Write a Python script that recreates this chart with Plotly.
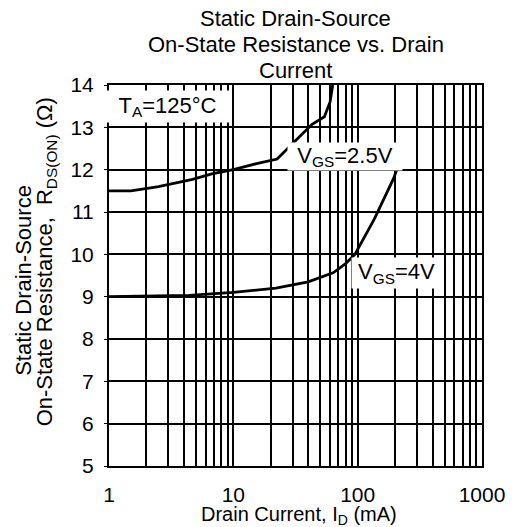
import plotly.graph_objects as go

# Data
id_25 = [1, 1.5, 2.5, 4.7, 6.7, 10, 15.7, 22.5, 32, 43, 54, 60, 63]
r_25 = [11.5, 11.5, 11.6, 11.77, 11.9, 12.0, 12.15, 12.25, 12.7, 13.07, 13.25, 13.6, 14.0]

id_4 = [1, 4.4, 10, 22, 40, 64, 80, 95, 136, 195, 215]
r_4 = [9.0, 9.03, 9.1, 9.2, 9.35, 9.57, 9.78, 10.0, 10.83, 11.8, 12.15]

x_ticks = [1, 10, 100, 1000]
x_tick_text = ["1", "10", "100", "1000"]
x_minor = [m * d for d in (1, 10, 100) for m in range(2, 10)]
y_ticks = list(range(5, 15))

title_lines = ["Static Drain-Source", "On-State Resistance vs. Drain", "Current"]
ytitle_lines = ["Static Drain-Source", "On-State Resistance,  R<sub>DS(ON)</sub> (Ω)"]
xtitle = "Drain Current, I<sub>D</sub> (mA)"

FONT = "Liberation Sans, Arial, Helvetica, sans-serif"

fig = go.Figure()
fig.add_trace(go.Scatter(x=id_25, y=r_25, mode="lines",
                         line=dict(color="black", width=2.8), showlegend=False))
fig.add_trace(go.Scatter(x=id_4, y=r_4, mode="lines",
                         line=dict(color="black", width=2.8), showlegend=False))

# page body has an 8px default margin: figure is sized to fit the window
fig.update_layout(
    width=509, height=519,
    margin=dict(l=101, r=27, t=77, b=61),
    paper_bgcolor="white", plot_bgcolor="white",
    font=dict(family=FONT, size=20, color="black"),
    showlegend=False,
)

fig.update_xaxes(
    type="log", range=[0, 3],
    tickvals=x_ticks, ticktext=x_tick_text,
    showgrid=True, gridcolor="black", gridwidth=1.7,
    minor=dict(tickvals=x_minor, showgrid=True, gridcolor="black", gridwidth=1.7),
    showline=True, linecolor="black", linewidth=2, mirror=True,
    ticks="", ticklabelstandoff=9,
    tickfont=dict(family=FONT, size=21, color="black"),
    zeroline=False,
)
fig.update_yaxes(
    range=[5, 14], tickvals=y_ticks,
    showgrid=True, gridcolor="black", gridwidth=1.7,
    showline=True, linecolor="black", linewidth=2, mirror=True,
    ticks="outside", ticklen=3, tickcolor="black", ticklabelstandoff=6,
    tickfont=dict(family=FONT, size=21, color="black"),
    zeroline=False,
)

annots = [
    dict(text="T<sub>A</sub>=125°C", x=0.472, y=13.5, width=125, height=31),
    dict(text="V<sub>GS</sub>=2.5V", x=1.898, y=12.3, width=114, height=27),
    dict(text="V<sub>GS</sub>=4V", x=2.315, y=9.56, width=89, height=30),
]
for a in annots:
    fig.add_annotation(text=a["text"], x=a["x"], y=a["y"], xref="x", yref="y",
                       showarrow=False, bgcolor="white", width=a["width"],
                       height=a["height"], borderpad=0,
                       font=dict(family=FONT, size=22, color="black"))

# Title (one annotation per line)
for txt, ypx in zip(title_lines, [18, 45, 71]):
    fig.add_annotation(text=txt, xref="paper", yref="paper",
                       x=0.5, y=1 + (85 - ypx) / 381, showarrow=False,
                       xanchor="center", yanchor="middle",
                       font=dict(family=FONT, size=22, color="black"))

# Axis titles
fig.add_annotation(text=xtitle, xref="paper", yref="paper",
                   x=0.51, y=-0.131, showarrow=False, yanchor="middle",
                   font=dict(family=FONT, size=20, color="black"))
for txt, xpx, ypx in zip(ytitle_lines, [21, 45], [280, 262]):
    fig.add_annotation(text=txt, xref="paper", yref="paper",
                       x=(xpx - 109) / 381, y=(466 - ypx) / 381, textangle=-90,
                       showarrow=False, xanchor="center", yanchor="middle",
                       font=dict(family=FONT, size=22, color="black"))

fig.write_html("out.html")
